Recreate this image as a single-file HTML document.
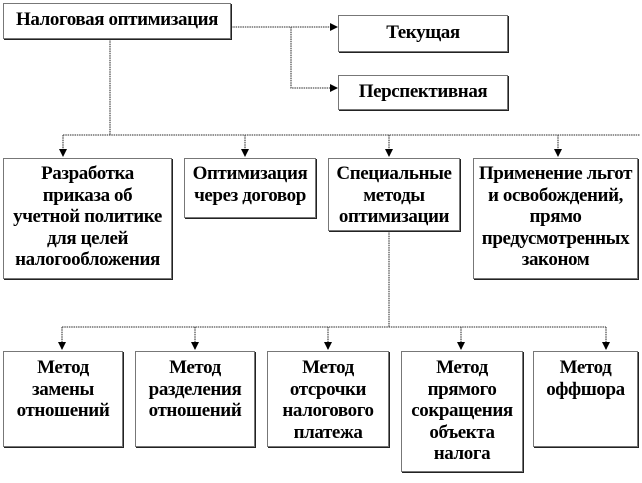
<!DOCTYPE html>
<html><head><meta charset="utf-8"><style>
body{margin:0;width:642px;height:483px;background:#fff;position:relative;overflow:hidden;font-family:"Liberation Serif","DejaVu Serif",serif;}
.b{position:absolute;box-sizing:border-box;border:1px solid #777;box-shadow:1px 1px 0 #222;background:#fff;text-align:center;font-weight:bold;font-size:19px;line-height:21.5px;letter-spacing:-0.4px;color:#000;white-space:nowrap;}
svg{position:absolute;left:0;top:0}
</style></head><body>
<svg width="642" height="483">
<defs><marker id="a" markerWidth="8" markerHeight="8" refX="7" refY="4" orient="auto" markerUnits="userSpaceOnUse"><path d="M0,0 L8,4 L0,8z" fill="#000"/></marker></defs>
<g stroke="#555" stroke-width="1.3" fill="none" stroke-dasharray="1.5,0.8">
<path d="M231,27 H337" marker-end="url(#a)"/>
<path d="M291,27 V88 H337" marker-end="url(#a)"/>
<path d="M110,39 V135"/>
<path d="M63,135 H640"/>
<path d="M63,135 V156" marker-end="url(#a)"/>
<path d="M245,135 V156" marker-end="url(#a)"/>
<path d="M389,135 V156" marker-end="url(#a)"/>
<path d="M558,135 V156" marker-end="url(#a)"/>
<path d="M389,231 V327"/>
<path d="M62,327 H606"/>
<path d="M62,327 V349" marker-end="url(#a)"/>
<path d="M195,327 V349" marker-end="url(#a)"/>
<path d="M328,327 V349" marker-end="url(#a)"/>
<path d="M461,327 V349" marker-end="url(#a)"/>
<path d="M606,327 V349" marker-end="url(#a)"/>
</g></svg>
<div class="b" style="left:3px;top:3px;width:228px;height:36px;line-height:32px">Налоговая оптимизация</div>
<div class="b" style="left:338px;top:15px;width:170px;height:37px;line-height:33px">Текущая</div>
<div class="b" style="left:338px;top:75px;width:170px;height:35px;line-height:31px">Перспективная</div>
<div class="b" style="left:3px;top:158px;width:169px;height:121px;padding-top:4px">Разработка<br>приказа об<br>учетной политике<br>для целей<br>налогообложения</div>
<div class="b" style="left:184px;top:158px;width:132px;height:60px;padding-top:4px">Оптимизация<br>через договор</div>
<div class="b" style="left:328px;top:158px;width:132px;height:73px;padding-top:4px">Специальные<br>методы<br>оптимизации</div>
<div class="b" style="left:473px;top:158px;width:165px;height:121px;padding-top:4px">Применение льгот<br>и освобождений,<br>прямо<br>предусмотренных<br>законом</div>
<div class="b" style="left:3px;top:351px;width:120px;height:96px;padding-top:5px">Метод<br>замены<br>отношений</div>
<div class="b" style="left:135px;top:351px;width:120px;height:96px;padding-top:5px">Метод<br>разделения<br>отношений</div>
<div class="b" style="left:267px;top:351px;width:122px;height:96px;padding-top:5px">Метод<br>отсрочки<br>налогового<br>платежа</div>
<div class="b" style="left:401px;top:351px;width:122px;height:121px;padding-top:5px">Метод<br>прямого<br>сокращения<br>объекта<br>налога</div>
<div class="b" style="left:533px;top:351px;width:105px;height:96px;padding-top:5px">Метод<br>оффшора</div>
</body></html>
